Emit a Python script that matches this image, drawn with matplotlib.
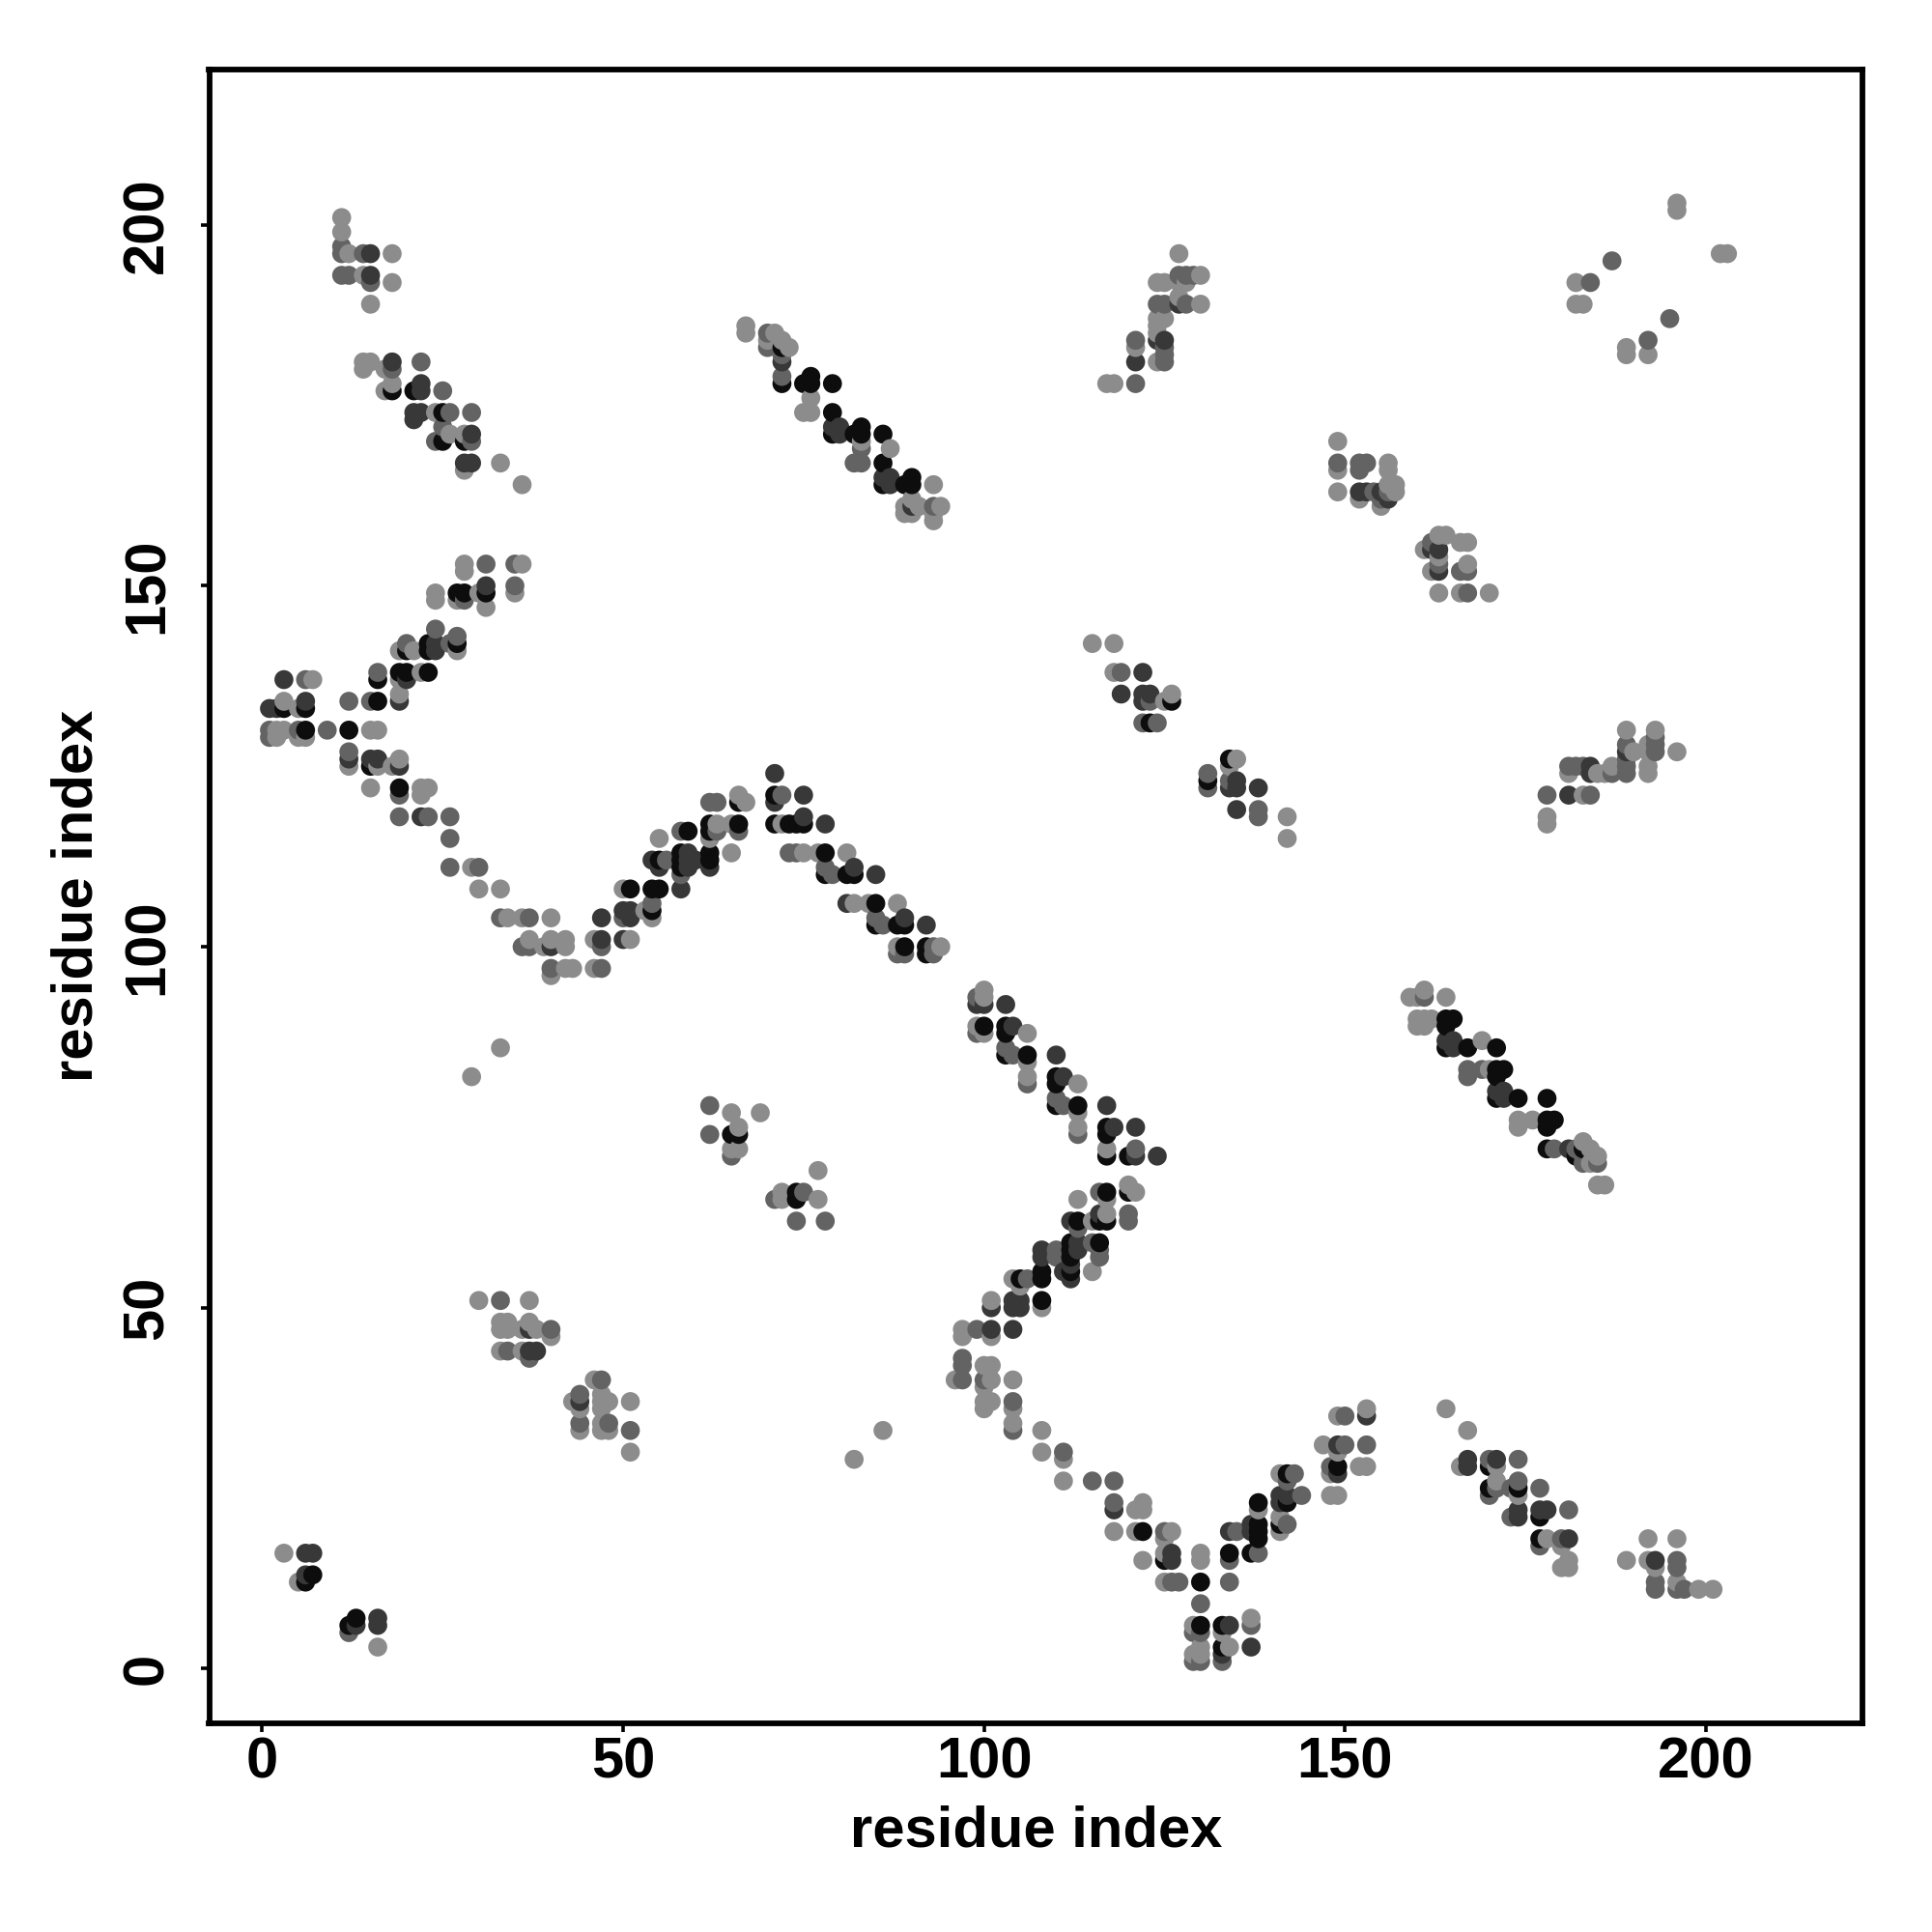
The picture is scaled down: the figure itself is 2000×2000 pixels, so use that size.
import numpy as np
import matplotlib
matplotlib.use('Agg')
import matplotlib.pyplot as plt

# weight: 1 light, 2 mid, 3 dark, 4 nearly black
top_left = [(11,201,1),(11,199,1),(11,197,2),(11,196,2),(12,196,1),(14,196,2),(15,196,3),(18,196,1),
            (11,193,2),(12,193,2),(14,193,1),(15,193,3),(15,192,2),(18,192,1),(15,189,1),
            (14,181,1),(15,181,1),(18,181,3),(22,181,2),(14,180,1),(17,180,1),(18,180,2),(18,178,1),
            (17,177,1),(18,177,4),(21,177,4),(22,178,3),(22,177,3),(25,177,2),(21,174,3),(22,174,3),
            (24,174,1),(25,174,4),(26,174,2),(29,174,2),(21,173,3),(25,172,2),(26,171,1),(28,171,1),
            (29,171,3),(24,170,2),(25,170,4),(28,170,4),(29,170,2),(28,167,3),(29,167,3),(28,166,1),
            (33,167,1),(36,164,1)]
arm_up = [(28,153,1),(31,153,2),(35,153,2),(36,153,1),(28,152,1),(24,149,1),(27,149,4),(28,149,4),
          (30,149,1),(31,150,3),(31,149,4),(35,150,2),(35,149,1),(24,148,1),(27,148,1),(28,148,2),
          (31,147,1),(24,144,2),(27,143,2),(27,142,4),(27,141,1),(26,142,2),(20,142,2),(19,141,1),
          (20,141,4),(21,141,1),(23,142,4),(23,141,4),(24,142,3),(24,141,3),(16,138,2),(16,137,4),
          (19,138,4),(20,138,4),(20,137,3),(19,137,1),(22,138,1),(23,138,4),(19,135,1),(19,134,3),
          (12,134,2),(15,134,2),(16,134,4),(3,137,3),(6,137,2),(7,137,1),(3,134,1),(6,134,3)]
arm_left = [(1,133,3),(2,133,3),(3,133,4),(5,133,1),(6,133,4),(1,130,2),(2,130,1),(3,130,1),(5,130,2),
            (6,130,4),(9,130,2),(12,130,4),(15,130,1),(16,130,1),(1,129,2),(2,129,1),(5,129,1),(6,129,1),
            (12,127,2),(12,126,3),(15,126,3),(16,126,3),(19,126,1),(12,125,1),(15,125,4),(16,125,1),
            (18,125,1),(19,125,3),(15,122,1),(19,122,4),(22,122,1),(23,122,1),(19,121,2),(22,121,1),
            (19,118,2),(22,118,3),(23,118,2),(26,118,2),(26,115,2),(26,111,2),(29,111,1),(30,111,2),
            (30,108,1),(33,108,1),(33,104,2),(34,104,1),(36,104,1),(37,104,2),(40,104,1),(47,104,3),
            (37,101,1),(40,101,1),(42,101,1),(46,101,1),(47,101,3),(50,101,3),(51,101,1),(36,100,2),
            (37,100,2),(39,100,1),(40,100,3),(42,100,1),(47,100,2),(40,97,2),(42,97,1),(43,97,1),
            (46,97,1),(47,97,2),(40,96,1)]
arm_peak = [(50,108,1),(51,108,4),(54,108,4),(55,108,4),(58,108,3),(54,106,2),(50,105,3),(51,105,3),
            (53,105,1),(54,105,4),(50,104,2),(51,104,3),(54,104,1),(55,115,1),(54,112,3),(55,112,4),
            (56,112,2),(58,112,4),(59,112,3),(60,112,3),(62,112,4),(65,113,1),(58,113,4),(59,113,3),
            (62,113,4),(55,111,3),(58,111,4),(59,111,3),(62,111,3),(58,110,2),(58,116,2),(59,116,4),
            (62,117,4),(63,117,1),(65,117,1),(66,117,4),(62,116,4),(63,116,2),(66,116,2),(62,115,1),
            (62,120,2),(63,120,2),(66,121,1),(66,120,4),(67,120,1),(71,124,3),(71,121,4),(72,121,2),
            (71,120,3),(71,117,4),(72,117,1),(73,117,4),(73,113,2),(33,86,1),(29,82,1)]
mid_small = [(62,78,2),(65,77,1),(69,77,1),(66,75,1),(62,74,2),(65,74,4),(66,74,4),(65,72,1),(66,72,1),
             (65,71,2),(77,69,1),(72,66,1),(74,66,4),(75,66,2),(71,65,2),(72,65,1),(74,65,4),(77,65,1),
             (74,62,2),(78,62,2)]
diag_a = [(75,121,3),(75,118,3),(74,117,4),(75,117,4),(78,117,3),(74,113,2),(75,113,1),(77,113,1),
          (78,113,4),(81,113,1),(78,111,2),(82,111,3),(78,110,4),(79,110,2),(81,110,4),(82,110,4),
          (85,110,3),(81,106,3),(82,106,1),(84,106,1),(85,106,4),(88,106,1),(85,104,2),(89,104,3),
          (85,103,4),(86,103,2),(88,103,4),(89,103,4),(92,103,3),(88,100,1),(89,100,4),(92,100,4),
          (93,100,2),(94,100,1),(88,99,2),(89,99,2),(92,99,4),(93,99,2)]
diag_b = [(100,94,1),(99,93,2),(100,93,1),(99,92,3),(100,92,3),(103,92,3),(99,89,1),(100,89,4),
          (103,89,4),(104,89,3),(99,88,2),(100,88,1),(103,88,4),(106,88,1),(103,86,2),(103,85,4),
          (104,85,2),(106,85,4),(110,85,3),(106,84,1),(106,82,1),(110,82,4),(111,82,3),(106,81,2),
          (110,81,4),(113,81,1),(110,79,2),(110,78,4),(111,78,2),(113,78,4),(117,78,3),(113,77,1),
          (113,75,1),(117,75,4),(118,75,3),(121,75,3),(113,74,2),(117,74,4),(117,72,1),(121,72,2),
          (117,71,4),(120,71,4),(121,71,3),(124,71,3)]
arm_rise = [(120,67,1),(121,66,1),(120,66,4),(117,66,4),(116,66,2),(113,65,1),(117,65,1),(120,63,2),
            (117,63,1),(116,63,3),(112,62,3),(113,62,4),(115,62,1),(116,62,4),(117,62,4),(120,62,2),
            (113,61,2),(112,59,4),(113,59,3),(115,59,2),(116,59,4),(108,58,3),(110,58,2),(112,58,4),
            (113,58,3),(116,58,2),(108,57,3),(110,57,2),(112,57,4),(116,57,2),(112,56,3),(108,55,4),
            (111,55,3),(112,55,4),(115,55,1),(108,54,4),(104,54,1),(105,54,4),(106,54,2),(112,54,3),
            (105,53,1),(101,51,1),(104,51,3),(105,51,3),(108,51,4),(101,50,3),(104,50,3),(105,50,3),
            (108,50,1),(99,47,2),(101,47,3),(104,47,3),(97,47,1),(97,46,1),(101,46,1)]
v_left = [(97,43,2),(97,42,2),(100,42,1),(101,42,1),(96,40,1),(97,40,2),(100,40,2),(101,40,1),(104,40,1),
          (100,39,1),(100,37,1),(101,37,1),(104,37,2),(100,36,1),(104,36,1),(104,34,1),(104,33,2),
          (108,33,1),(108,30,1),(111,30,2),(111,29,1),(111,26,1),(115,26,2),(118,26,2),(118,23,2),
          (122,23,1),(118,22,3),(121,22,1),(122,22,1),(118,19,1),(121,19,1),(122,19,4),(125,19,2),
          (126,19,1),(125,18,1),(125,16,1),(126,16,3),(122,15,1),(125,15,4),(126,15,3),(125,12,1),
          (126,12,2),(127,12,2)]
v_bottom = [(130,16,1),(134,16,4),(137,16,4),(138,16,2),(130,15,1),(134,15,2),(130,12,4),(134,12,2),
            (130,9,2),(137,7,1),(129,6,1),(130,6,4),(133,6,4),(134,6,3),(137,6,2),(129,5,2),(130,5,2),
            (133,5,1),(130,3,1),(133,3,4),(134,3,1),(137,3,3),(129,2,1),(130,2,1),(133,2,3),(129,1,2),
            (130,1,2),(133,1,2)]
v_right = [(134,19,3),(135,19,2),(137,19,3),(138,19,4),(141,19,1),(137,20,3),(138,20,4),(142,20,2),
           (141,20,4),(138,18,4),(138,23,4),(138,22,1),(141,24,3),(142,24,3),(144,24,2),(141,23,3),
           (142,23,4),(142,26,2),(141,27,1),(142,27,4),(143,27,2),(141,21,1),(149,35,1),(150,35,2),
           (153,35,3),(153,36,1),(147,31,1),(149,31,3),(150,31,2),(153,31,2),(149,30,1),(148,28,2),
           (149,28,4),(152,28,1),(153,28,1),(148,27,1),(149,27,3),(148,24,1),(149,24,1)]
low_right = [(164,36,1),(167,33,1),(167,29,3),(170,29,2),(171,29,3),(174,29,2),(166,28,1),(167,28,3),
             (170,28,4),(171,28,1),(171,26,1),(174,26,2),(170,25,4),(171,25,2),(173,25,2),(174,25,4),
             (177,25,2),(170,24,2),(174,24,1),(174,22,3),(177,22,3),(178,22,3),(181,22,2),(173,21,2),
             (174,21,3),(177,21,4),(177,18,4),(178,18,1),(180,18,2),(181,18,3),(177,17,2),(180,17,1),
             (181,15,1),(180,14,1),(181,14,1),(192,18,1),(196,18,1),(189,15,1),(192,15,1),(193,15,3),
             (196,15,2),(193,14,1),(196,14,2),(193,12,2),(196,12,1),(193,11,2),(196,11,2),(197,11,2),
             (199,11,1),(201,11,1)]
diag_c = [(161,94,1),(159,93,1),(160,93,1),(161,93,2),(164,93,1),(160,90,1),(161,90,1),(162,90,1),
          (164,90,4),(165,90,4),(160,89,1),(161,89,1),(164,89,4),(164,87,3),(165,87,3),(169,87,1),
          (164,86,4),(165,86,3),(167,86,4),(171,86,4),(167,83,2),(169,83,2),(170,83,1),(171,83,4),
          (172,83,4),(167,82,2),(171,82,4),(171,80,3),(172,80,3),(171,79,4),(172,79,3),(174,79,4),
          (178,79,4),(174,76,1),(176,76,1),(178,76,4),(179,76,4),(174,75,1),(178,75,4),(178,72,4),
          (179,72,2),(181,72,3),(182,72,2),(183,73,1),(183,72,4),(184,72,1),(182,71,4),(183,71,2),
          (185,71,1),(183,70,2),(184,70,1),(185,70,2),(185,67,1),(186,67,1)]
diag_d = [(67,186,1),(67,185,1),(70,185,2),(71,185,1),(72,184,1),(73,183,1),(70,184,1),(70,183,2),
          (72,183,4),(72,182,2),(72,181,3),(72,179,2),(72,178,4),(76,179,4),(75,178,4),(76,178,4),
          (79,178,4),(76,176,1),(75,174,1),(76,174,1),(79,174,4),(79,172,3),(80,172,3),(79,171,4),
          (80,171,3),(82,171,4),(83,172,4),(83,171,4),(86,171,4),(83,170,1),(83,169,2),(87,169,1),
          (82,167,2),(83,167,2),(86,167,4),(86,165,3),(87,165,3),(86,164,4),(87,164,3),(89,164,4),
          (90,165,4),(90,164,4),(93,164,1),(90,162,1),(89,161,1),(90,161,3),(91,161,1),(93,161,2),
          (94,161,1),(89,160,1),(90,160,1),(93,160,1),(93,159,1)]
top_mid = [(127,196,1),(127,193,2),(128,193,2),(129,193,2),(130,193,1),(124,192,1),(125,192,1),(127,192,1),
           (128,192,1),(127,190,1),(124,189,2),(125,189,2),(127,189,3),(128,189,2),(130,189,1),(124,187,1),
           (125,187,1),(124,186,1),(124,185,1),(121,184,2),(124,184,3),(125,184,3),(121,183,1),(125,183,2),
           (125,182,2),(121,181,3),(124,181,1),(125,181,2),(117,178,1),(118,178,1),(121,178,2)]
top_right = [(196,203,1),(196,202,1),(202,196,1),(203,196,1),(187,195,2),(182,192,1),(184,192,2),(182,189,1),
             (183,189,1),(195,187,2),(192,184,2),(189,183,1),(189,182,1),(192,182,1)]
right_mid = [(149,170,1),(149,167,2),(152,167,2),(153,167,2),(156,167,1),(149,166,1),(152,166,2),(156,166,1),
             (156,164,1),(157,164,1),(149,163,1),(152,163,3),(153,163,3),(154,163,2),(155,163,3),(156,163,2),
             (157,163,1),(152,162,1),(155,162,2),(156,162,3),(155,161,1),(163,157,1),(164,157,1),(162,156,2),
             (166,156,1),(167,156,1),(161,155,1),(162,155,3),(163,155,3),(163,154,1),(163,153,2),(167,153,1),
             (162,152,1),(163,152,3),(166,152,2),(167,152,2),(163,149,1),(166,149,1),(167,149,2),(170,149,1)]
centre = [(115,142,1),(118,142,1),(118,138,1),(119,138,2),(122,138,3),(119,135,3),(122,135,3),(123,135,3),
          (126,135,1),(122,134,3),(123,134,2),(125,134,1),(126,134,4),(122,131,2),(123,131,4),(124,131,2),
          (134,126,4),(135,126,1),(134,125,1),(131,124,2),(131,123,4),(134,123,2),(135,123,3),(131,122,2),
          (134,122,3),(135,122,3),(138,122,3),(135,119,3),(138,119,2),(138,118,2),(142,118,1),(142,115,1)]
right_arm = [(189,130,1),(193,130,1),(193,129,2),(189,128,2),(192,128,1),(193,128,2),(189,127,3),(190,127,1),
             (192,127,1),(193,127,2),(196,127,1),(189,126,2),(181,125,2),(182,125,2),(183,125,2),(184,125,3),
             (187,125,1),(189,125,2),(192,125,1),(181,124,1),(184,124,3),(185,124,1),(186,124,1),(187,124,2),
             (189,124,2),(192,124,1),(178,121,2),(181,121,3),(183,121,1),(184,121,2),(178,118,1),(178,117,1)]
lower_left = [(30,51,1),(33,51,2),(37,51,1),(33,48,1),(34,48,1),(37,48,1),(33,47,1),(34,47,1),(36,47,1),
              (37,47,3),(38,47,1),(40,47,2),(40,46,1),(33,44,1),(34,44,2),(36,44,1),(37,44,3),(38,44,3),
              (37,43,2),(46,40,1),(47,40,2),(44,38,2),(47,38,1),(43,37,1),(44,37,3),(47,37,1),(48,37,1),
              (51,37,1),(44,36,1),(47,36,1),(44,34,2),(47,34,1),(48,34,2),(44,33,1),(47,33,1),(48,33,1),
              (51,33,2),(51,30,1),(86,33,1),(82,29,1),(3,16,1),(6,16,3),(7,16,3),(6,13,3),(7,13,4),(5,12,1),
              (6,12,4),(13,7,4),(16,7,3),(12,6,4),(13,6,3),(16,6,3),(12,5,2),(16,3,1)]

x_ticks = [0, 50, 100, 150, 200]
y_ticks = [0, 50, 100, 150, 200]
shades = {1: '#8c8c8c', 2: '#636363', 3: '#383838', 4: '#0d0d0d'}

contacts = (top_left + arm_up + arm_left + arm_peak + mid_small + diag_a + diag_b + arm_rise + v_left
            + v_bottom + v_right + low_right + diag_c + diag_d + top_mid + top_right + right_mid
            + centre + right_arm + lower_left)
# later residues sit on top, same as the original drawing order
contacts = sorted(contacts, key=lambda c: (c[0], c[1]))
xs = [c[0] for c in contacts]
ys = [c[1] for c in contacts]
cols = [shades[c[2]] for c in contacts]

plt.rcParams['font.family'] = ['Liberation Sans', 'DejaVu Sans']
fig = plt.figure(figsize=(10, 10), dpi=200)
ax = fig.add_axes([216.5 / 2000, 1 - 1783.5 / 2000, 1711.5 / 2000, 1711.5 / 2000])
ax.scatter(xs, ys, s=50, c=cols, linewidths=0, zorder=2)

ax.set_xlim(-7.36, 221.7)
ax.set_ylim(-7.5, 221.5)
ax.set_xticks(x_ticks)
ax.set_yticks(y_ticks)
ax.tick_params(axis='both', width=1.3, length=3.4, labelsize=21.5)
ax.tick_params(axis='x', pad=1.5)
ax.tick_params(axis='y', pad=9.6)
for lab in ax.get_xticklabels() + ax.get_yticklabels():
    lab.set_fontweight('bold')
for lab in ax.get_yticklabels():
    lab.set_rotation(90)
    lab.set_va('center')
for s in ax.spines.values():
    s.set_linewidth(2.1)
ax.set_xlabel('residue index', fontsize=21.5, fontweight='bold', labelpad=6)
ax.set_ylabel('residue index', fontsize=21.5, fontweight='bold', labelpad=6.3)

fig.savefig('out.png', dpi=200)
